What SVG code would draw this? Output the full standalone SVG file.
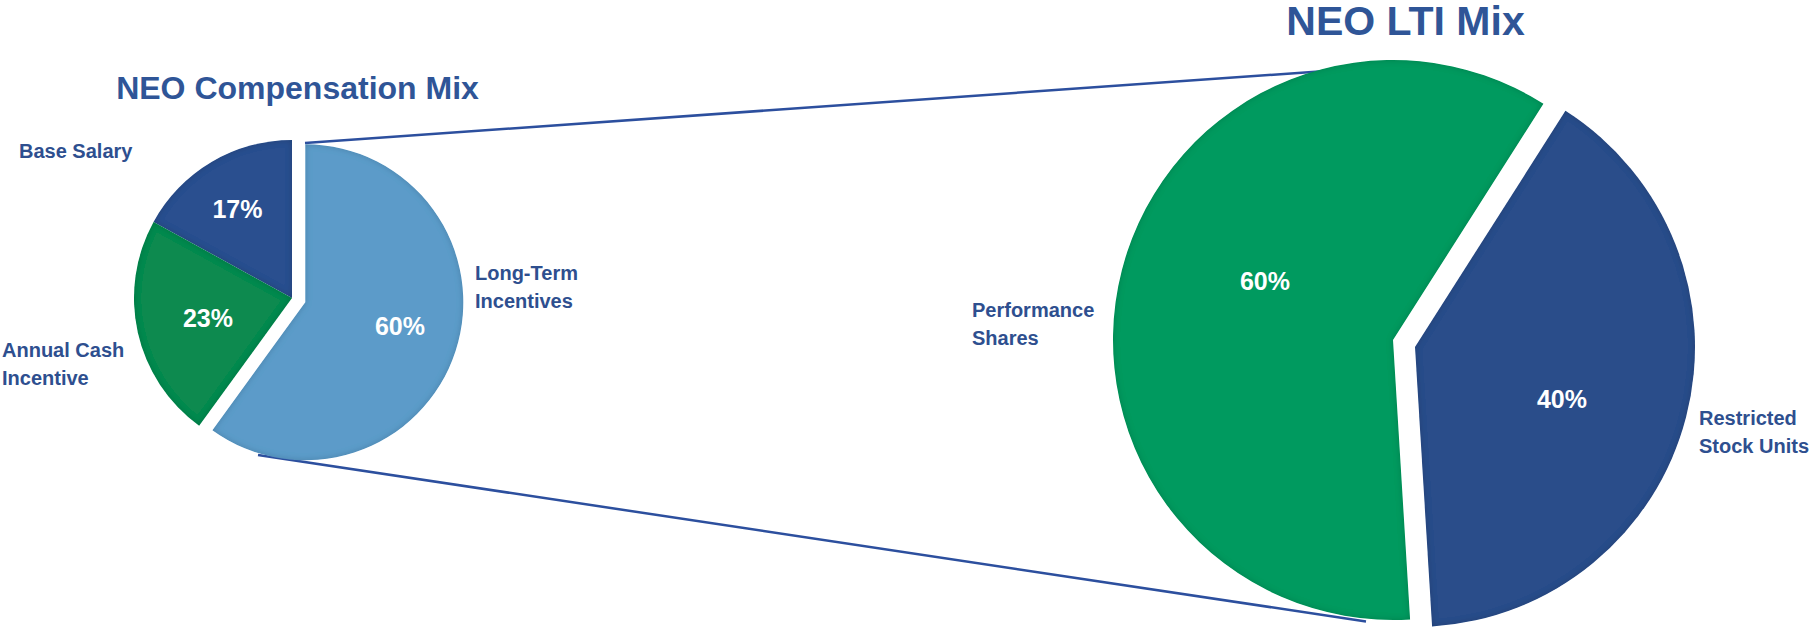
<svg xmlns="http://www.w3.org/2000/svg" width="1813" height="630" viewBox="0 0 1813 630">
<style>
text{font-family:"Liberation Sans",Arial,sans-serif;font-weight:bold}
.title{fill:#2F5597}
.lbl{fill:#2E4F8F;font-size:20px}
.pct{fill:#FFFFFF;font-size:25px;text-anchor:middle}
.conn{stroke:#2C4F9E;stroke-width:2.5;fill:none}
</style>
<defs>
<filter id="bevel" x="-5%" y="-5%" width="110%" height="110%">
<feGaussianBlur in="SourceAlpha" stdDeviation="3" result="b"/>
<feComposite in="SourceAlpha" in2="b" operator="arithmetic" k2="1" k3="-1" result="edge"/>
<feFlood flood-color="#000" flood-opacity="0.35"/>
<feComposite in2="edge" operator="in" result="shade"/>
<feMerge><feMergeNode in="SourceGraphic"/><feMergeNode in="shade"/></feMerge>
</filter>
</defs>
<rect width="1813" height="630" fill="#FFFFFF"/>
<g id="connectors">
<path class="conn" d="M305,143 L1340,70"/>
<path class="conn" d="M258,455 L1366,621.5"/>
</g>
<g id="title-comp"><text class="title" x="297.5" y="99" font-size="32" text-anchor="middle">NEO Compensation Mix</text></g>
<g id="title-lti"><text class="title" x="1405.5" y="35" font-size="41" text-anchor="middle">NEO LTI Mix</text></g>
<g id="base-salary">
<path d="M292,298 L292,140 A158,158 0 0 0 153.54,221.88 Z" fill="#2A4F8F" filter="url(#bevel)"/>
<text class="pct" x="237.5" y="218">17%</text>
<text class="lbl" x="19" y="158">Base Salary</text>
</g>
<g id="annual-cash">
<path d="M292,298 L153.54,221.88 A158,158 0 0 0 199.13,425.83 Z" fill="#108A50" filter="url(#bevel)"/>
<text class="pct" x="208" y="327">23%</text>
<text class="lbl" x="2" y="357">Annual Cash</text>
<text class="lbl" x="2" y="385">Incentive</text>
</g>
<g id="long-term">
<path d="M305.3,302.3 L305.3,144.3 A158,158 0 1 1 212.43,430.13 Z" fill="#5B9BC9" filter="url(#bevel)"/>
<text class="pct" x="400" y="335">60%</text>
<text class="lbl" x="475" y="280">Long-Term</text>
<text class="lbl" x="475" y="308">Incentives</text>
</g>
<g id="performance-shares">
<path d="M1393,340 L1410.09,619.48 A280,280 0 1 1 1543.44,103.85 Z" fill="#009A5E" filter="url(#bevel)"/>
<text class="pct" x="1265" y="290">60%</text>
<text class="lbl" x="972" y="317">Performance</text>
<text class="lbl" x="972" y="345">Shares</text>
</g>
<g id="rsu">
<path d="M1415,347 L1565.44,110.85 A280,280 0 0 1 1432.09,626.48 Z" fill="#2A4D8A" filter="url(#bevel)"/>
<text class="pct" x="1562" y="408">40%</text>
<text class="lbl" x="1699" y="425">Restricted</text>
<text class="lbl" x="1699" y="453">Stock Units</text>
</g>
</svg>
